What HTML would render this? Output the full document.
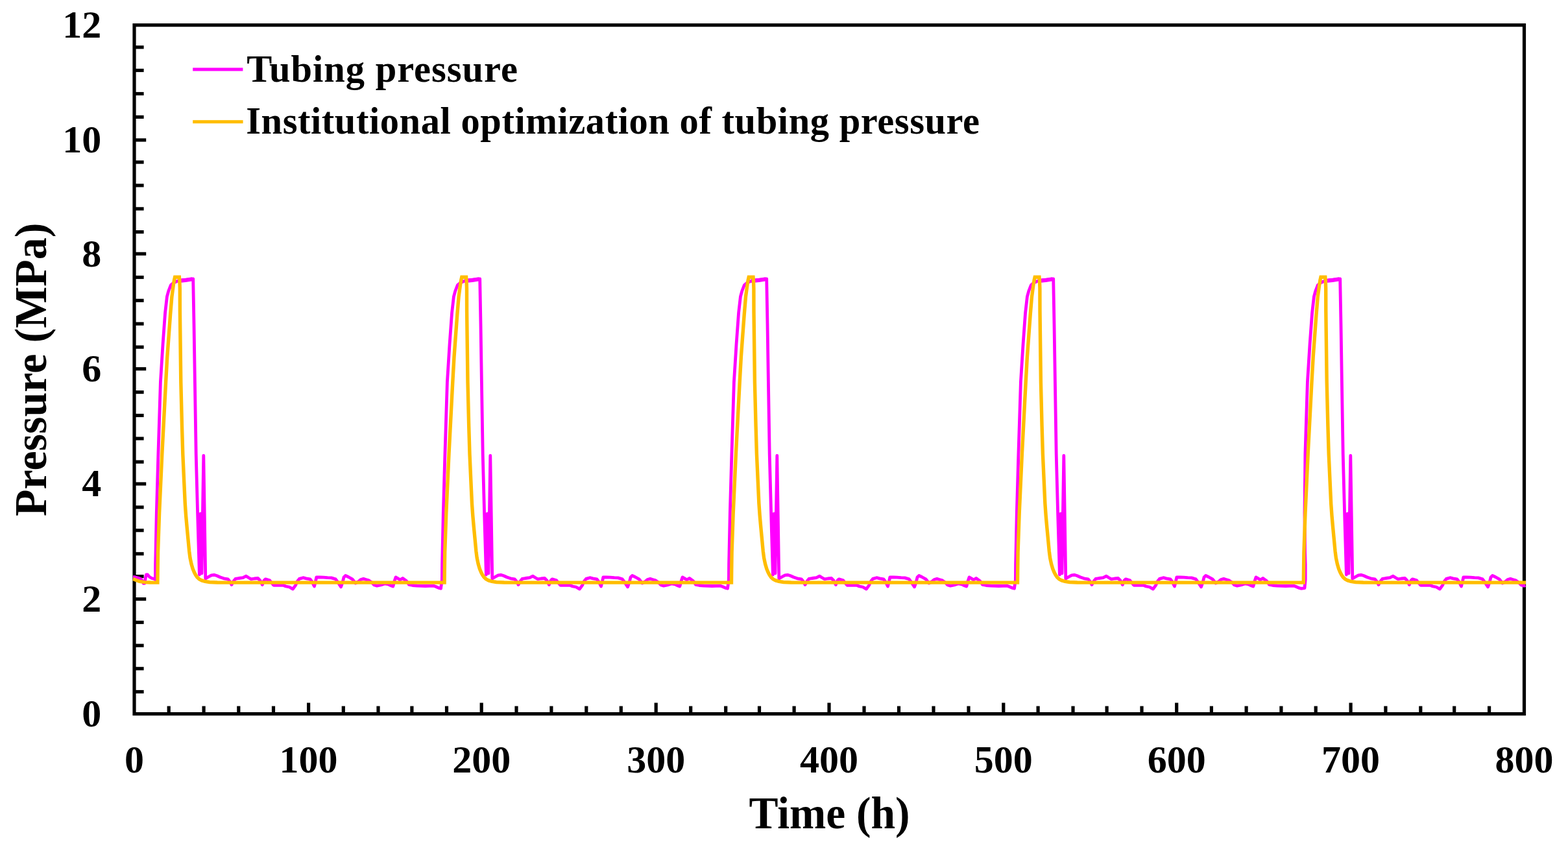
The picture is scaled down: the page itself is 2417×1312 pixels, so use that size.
<!DOCTYPE html>
<html><head><meta charset="utf-8"><title>Tubing pressure chart</title>
<style>html,body{margin:0;padding:0;background:#fff;}body{width:2417px;height:1312px;overflow:hidden;}svg{display:block;filter:blur(0.75px);}</style>
</head><body>
<svg width="2417" height="1312" viewBox="0 0 2417 1312">
<rect width="2417" height="1312" fill="#fff"/>

<g stroke="#000" stroke-width="5.2" fill="none">
<line x1="207.0" y1="72.8" x2="221.6" y2="72.8"/>
<line x1="207.0" y1="108.5" x2="221.6" y2="108.5"/>
<line x1="207.0" y1="144.5" x2="221.6" y2="144.5"/>
<line x1="207.0" y1="180.4" x2="221.6" y2="180.4"/>
<line x1="207.0" y1="215.9" x2="225.2" y2="215.9"/>
<line x1="207.0" y1="250.0" x2="221.6" y2="250.0"/>
<line x1="207.0" y1="285.9" x2="221.6" y2="285.9"/>
<line x1="207.0" y1="321.9" x2="221.6" y2="321.9"/>
<line x1="207.0" y1="357.6" x2="221.6" y2="357.6"/>
<line x1="207.0" y1="391.3" x2="225.2" y2="391.3"/>
<line x1="207.0" y1="427.5" x2="221.6" y2="427.5"/>
<line x1="207.0" y1="463.3" x2="221.6" y2="463.3"/>
<line x1="207.0" y1="499.2" x2="221.6" y2="499.2"/>
<line x1="207.0" y1="535.1" x2="221.6" y2="535.1"/>
<line x1="207.0" y1="568.7" x2="225.2" y2="568.7"/>
<line x1="207.0" y1="604.6" x2="221.6" y2="604.6"/>
<line x1="207.0" y1="640.5" x2="221.6" y2="640.5"/>
<line x1="207.0" y1="676.1" x2="221.6" y2="676.1"/>
<line x1="207.0" y1="712.1" x2="221.6" y2="712.1"/>
<line x1="207.0" y1="746.0" x2="225.2" y2="746.0"/>
<line x1="207.0" y1="782.0" x2="221.6" y2="782.0"/>
<line x1="207.0" y1="817.7" x2="221.6" y2="817.7"/>
<line x1="207.0" y1="853.8" x2="221.6" y2="853.8"/>
<line x1="207.0" y1="888.6" x2="221.6" y2="888.6"/>
<line x1="207.0" y1="923.6" x2="225.2" y2="923.6"/>
<line x1="207.0" y1="959.5" x2="221.6" y2="959.5"/>
<line x1="207.0" y1="995.2" x2="221.6" y2="995.2"/>
<line x1="207.0" y1="1030.8" x2="221.6" y2="1030.8"/>
<line x1="207.0" y1="1066.5" x2="221.6" y2="1066.5"/>
<line x1="260.2" y1="1100.6" x2="260.2" y2="1088.6"/>
<line x1="314.1" y1="1100.6" x2="314.1" y2="1088.6"/>
<line x1="367.8" y1="1100.6" x2="367.8" y2="1088.6"/>
<line x1="421.5" y1="1100.6" x2="421.5" y2="1088.6"/>
<line x1="475.6" y1="1100.6" x2="475.6" y2="1083.5"/>
<line x1="529.3" y1="1100.6" x2="529.3" y2="1088.6"/>
<line x1="583.0" y1="1100.6" x2="583.0" y2="1088.6"/>
<line x1="634.9" y1="1100.6" x2="634.9" y2="1088.6"/>
<line x1="688.5" y1="1100.6" x2="688.5" y2="1088.6"/>
<line x1="742.2" y1="1100.6" x2="742.2" y2="1083.5"/>
<line x1="796.0" y1="1100.6" x2="796.0" y2="1088.6"/>
<line x1="849.9" y1="1100.6" x2="849.9" y2="1088.6"/>
<line x1="903.8" y1="1100.6" x2="903.8" y2="1088.6"/>
<line x1="957.3" y1="1100.6" x2="957.3" y2="1088.6"/>
<line x1="1011.2" y1="1100.6" x2="1011.2" y2="1083.5"/>
<line x1="1064.7" y1="1100.6" x2="1064.7" y2="1088.6"/>
<line x1="1118.7" y1="1100.6" x2="1118.7" y2="1088.6"/>
<line x1="1170.5" y1="1100.6" x2="1170.5" y2="1088.6"/>
<line x1="1224.1" y1="1100.6" x2="1224.1" y2="1088.6"/>
<line x1="1278.0" y1="1100.6" x2="1278.0" y2="1083.5"/>
<line x1="1332.0" y1="1100.6" x2="1332.0" y2="1088.6"/>
<line x1="1385.5" y1="1100.6" x2="1385.5" y2="1088.6"/>
<line x1="1439.0" y1="1100.6" x2="1439.0" y2="1088.6"/>
<line x1="1493.0" y1="1100.6" x2="1493.0" y2="1088.6"/>
<line x1="1546.8" y1="1100.6" x2="1546.8" y2="1083.5"/>
<line x1="1600.1" y1="1100.6" x2="1600.1" y2="1088.6"/>
<line x1="1654.0" y1="1100.6" x2="1654.0" y2="1088.6"/>
<line x1="1706.1" y1="1100.6" x2="1706.1" y2="1088.6"/>
<line x1="1760.0" y1="1100.6" x2="1760.0" y2="1088.6"/>
<line x1="1813.7" y1="1100.6" x2="1813.7" y2="1083.5"/>
<line x1="1867.4" y1="1100.6" x2="1867.4" y2="1088.6"/>
<line x1="1921.1" y1="1100.6" x2="1921.1" y2="1088.6"/>
<line x1="1974.9" y1="1100.6" x2="1974.9" y2="1088.6"/>
<line x1="2028.2" y1="1100.6" x2="2028.2" y2="1088.6"/>
<line x1="2082.1" y1="1100.6" x2="2082.1" y2="1083.5"/>
<line x1="2135.9" y1="1100.6" x2="2135.9" y2="1088.6"/>
<line x1="2189.8" y1="1100.6" x2="2189.8" y2="1088.6"/>
<line x1="2241.7" y1="1100.6" x2="2241.7" y2="1088.6"/>
<line x1="2295.6" y1="1100.6" x2="2295.6" y2="1088.6"/>
<rect x="207.0" y="38.7" width="2142.5" height="1061.9" stroke-linejoin="miter"/>
</g>
<g fill="none" stroke-linejoin="round" stroke-linecap="butt">
<polyline points="205.0,889.5 209.0,890.0 213.0,891.0 217.0,892.5 219.5,896.0 221.2,899.3 222.8,899.3 224.2,891.5 225.5,885.8 227.5,886.0 230.5,889.5 234.0,891.5 238.0,892.5 239.4,893.5 239.6,870.0 240.0,852.0 241.3,791.0 243.9,700.0 247.4,589.0 251.1,530.0 254.6,482.0 257.4,457.4 259.8,448.5 263.3,439.5 267.5,436.0 273.0,433.5 280.0,432.0 290.0,431.0 297.7,429.8 299.0,500.0 300.4,589.0 302.2,700.0 304.6,791.0 307.4,886.0 309.2,792.0 311.0,884.0 313.8,702.5 316.8,892.0 322.0,889.0 326.0,886.8 330.0,886.3 334.0,887.5 339.7,890.0 345.0,891.8 351.3,892.8 354.0,896.0 357.1,901.5 360.0,896.0 362.9,892.4 368.0,891.5 374.5,890.7 379.4,888.2 383.0,890.5 386.9,892.8 392.0,892.0 397.6,891.5 401.0,895.0 404.3,901.5 407.0,895.0 409.2,892.8 415.8,894.9 419.0,899.0 422.0,902.3 430.0,902.3 436.5,902.3 440.7,904.0 446.0,905.0 451.4,908.1 455.6,902.3 458.5,896.0 461.4,892.4 467.2,890.7 472.0,891.8 477.9,892.8 481.0,897.0 484.5,904.0 486.5,896.0 487.8,889.9 493.0,890.0 498.6,890.2 505.0,890.7 510.7,890.9 517.3,892.8 521.0,898.0 525.6,904.8 528.0,898.0 530.0,890.0 532.6,887.4 537.0,889.5 543.0,892.8 547.9,899.0 552.0,897.0 556.0,893.5 560.3,892.4 564.0,893.5 568.6,894.9 573.0,898.0 577.0,902.0 581.0,903.1 587.0,902.0 593.4,899.8 599.0,901.0 603.0,903.0 605.8,904.0 608.0,896.0 610.0,889.9 613.0,891.5 616.6,894.0 620.7,891.5 626.5,895.7 630.7,901.5 636.0,902.5 643.1,903.1 650.0,903.3 655.5,903.5 662.0,903.3 667.9,903.1 672.0,904.5 676.2,906.4 679.5,907.3 681.4,893.5 681.6,870.0 682.0,852.0 683.3,791.0 685.9,700.0 689.4,589.0 693.1,530.0 696.6,482.0 699.4,457.4 701.8,448.5 705.3,439.5 709.5,436.0 715.0,433.5 722.0,432.0 732.0,431.0 739.7,429.8 741.0,500.0 742.4,589.0 744.2,700.0 746.6,791.0 749.4,886.0 751.2,792.0 753.0,884.0 755.8,702.5 758.8,892.0 764.0,889.0 768.0,886.8 772.0,886.3 776.0,887.5 781.7,890.0 787.0,891.8 793.3,892.8 796.0,896.0 799.1,901.5 802.0,896.0 804.9,892.4 810.0,891.5 816.5,890.7 821.4,888.2 825.0,890.5 828.9,892.8 834.0,892.0 839.6,891.5 843.0,895.0 846.3,901.5 849.0,895.0 851.2,892.8 857.8,894.9 861.0,899.0 864.0,902.3 872.0,902.3 878.5,902.3 882.7,904.0 888.0,905.0 893.4,908.1 897.6,902.3 900.5,896.0 903.4,892.4 909.2,890.7 914.0,891.8 919.9,892.8 923.0,897.0 926.5,904.0 928.5,896.0 929.8,889.9 935.0,890.0 940.6,890.2 947.0,890.7 952.7,890.9 959.3,892.8 963.0,898.0 967.6,904.8 970.0,898.0 972.0,890.0 974.6,887.4 979.0,889.5 985.0,892.8 989.9,899.0 994.0,897.0 998.0,893.5 1002.3,892.4 1006.0,893.5 1010.6,894.9 1015.0,898.0 1019.0,902.0 1023.0,903.1 1029.0,902.0 1035.4,899.8 1041.0,901.0 1045.0,903.0 1047.8,904.0 1050.0,896.0 1052.0,889.9 1055.0,891.5 1058.6,894.0 1062.7,891.5 1068.5,895.7 1072.7,901.5 1078.0,902.5 1085.1,903.1 1092.0,903.3 1097.5,903.5 1104.0,903.3 1109.9,903.1 1114.0,904.5 1118.2,906.4 1121.5,907.3 1123.4,893.5 1123.6,870.0 1124.0,852.0 1125.3,791.0 1127.9,700.0 1131.4,589.0 1135.1,530.0 1138.6,482.0 1141.4,457.4 1143.8,448.5 1147.3,439.5 1151.5,436.0 1157.0,433.5 1164.0,432.0 1174.0,431.0 1181.7,429.8 1183.0,500.0 1184.4,589.0 1186.2,700.0 1188.6,791.0 1191.4,886.0 1193.2,792.0 1195.0,884.0 1197.8,702.5 1200.8,892.0 1206.0,889.0 1210.0,886.8 1214.0,886.3 1218.0,887.5 1223.7,890.0 1229.0,891.8 1235.3,892.8 1238.0,896.0 1241.1,901.5 1244.0,896.0 1246.9,892.4 1252.0,891.5 1258.5,890.7 1263.4,888.2 1267.0,890.5 1270.9,892.8 1276.0,892.0 1281.6,891.5 1285.0,895.0 1288.3,901.5 1291.0,895.0 1293.2,892.8 1299.8,894.9 1303.0,899.0 1306.0,902.3 1314.0,902.3 1320.5,902.3 1324.7,904.0 1330.0,905.0 1335.4,908.1 1339.6,902.3 1342.5,896.0 1345.4,892.4 1351.2,890.7 1356.0,891.8 1361.9,892.8 1365.0,897.0 1368.5,904.0 1370.5,896.0 1371.8,889.9 1377.0,890.0 1382.6,890.2 1389.0,890.7 1394.7,890.9 1401.3,892.8 1405.0,898.0 1409.6,904.8 1412.0,898.0 1414.0,890.0 1416.6,887.4 1421.0,889.5 1427.0,892.8 1431.9,899.0 1436.0,897.0 1440.0,893.5 1444.3,892.4 1448.0,893.5 1452.6,894.9 1457.0,898.0 1461.0,902.0 1465.0,903.1 1471.0,902.0 1477.4,899.8 1483.0,901.0 1487.0,903.0 1489.8,904.0 1492.0,896.0 1494.0,889.9 1497.0,891.5 1500.6,894.0 1504.7,891.5 1510.5,895.7 1514.7,901.5 1520.0,902.5 1527.1,903.1 1534.0,903.3 1539.5,903.5 1546.0,903.3 1551.9,903.1 1556.0,904.5 1560.2,906.4 1563.5,907.3 1565.4,893.5 1565.6,870.0 1566.0,852.0 1567.3,791.0 1569.9,700.0 1573.4,589.0 1577.1,530.0 1580.6,482.0 1583.4,457.4 1585.8,448.5 1589.3,439.5 1593.5,436.0 1599.0,433.5 1606.0,432.0 1616.0,431.0 1623.7,429.8 1625.0,500.0 1626.4,589.0 1628.2,700.0 1630.6,791.0 1633.4,886.0 1635.2,792.0 1637.0,884.0 1639.8,702.5 1642.8,892.0 1648.0,889.0 1652.0,886.8 1656.0,886.3 1660.0,887.5 1665.7,890.0 1671.0,891.8 1677.3,892.8 1680.0,896.0 1683.1,901.5 1686.0,896.0 1688.9,892.4 1694.0,891.5 1700.5,890.7 1705.4,888.2 1709.0,890.5 1712.9,892.8 1718.0,892.0 1723.6,891.5 1727.0,895.0 1730.3,901.5 1733.0,895.0 1735.2,892.8 1741.8,894.9 1745.0,899.0 1748.0,902.3 1756.0,902.3 1762.5,902.3 1766.7,904.0 1772.0,905.0 1777.4,908.1 1781.6,902.3 1784.5,896.0 1787.4,892.4 1793.2,890.7 1798.0,891.8 1803.9,892.8 1807.0,897.0 1810.5,904.0 1812.5,896.0 1813.8,889.9 1819.0,890.0 1824.6,890.2 1831.0,890.7 1836.7,890.9 1843.3,892.8 1847.0,898.0 1851.6,904.8 1854.0,898.0 1856.0,890.0 1858.6,887.4 1863.0,889.5 1869.0,892.8 1873.9,899.0 1878.0,897.0 1882.0,893.5 1886.3,892.4 1890.0,893.5 1894.6,894.9 1899.0,898.0 1903.0,902.0 1907.0,903.1 1913.0,902.0 1919.4,899.8 1925.0,901.0 1929.0,903.0 1931.8,904.0 1934.0,896.0 1936.0,889.9 1939.0,891.5 1942.6,894.0 1946.7,891.5 1952.5,895.7 1956.7,901.5 1962.0,902.5 1969.1,903.1 1976.0,903.3 1981.5,903.5 1988.0,903.3 1993.9,903.1 1998.0,904.5 2002.2,906.4 2005.5,907.3 2011.0,906.5 2012.2,893.5 2012.2,870.0 2011.6,852.0 2011.0,791.0 2011.9,700.0 2015.4,589.0 2019.1,530.0 2022.6,482.0 2025.4,457.4 2027.8,448.5 2031.3,439.5 2035.5,436.0 2041.0,433.5 2048.0,432.0 2058.0,431.0 2065.7,429.8 2067.0,500.0 2068.4,589.0 2070.2,700.0 2072.6,791.0 2075.4,886.0 2077.2,792.0 2079.0,884.0 2081.8,702.5 2084.8,892.0 2090.0,889.0 2094.0,886.8 2098.0,886.3 2102.0,887.5 2107.7,890.0 2113.0,891.8 2119.3,892.8 2122.0,896.0 2125.1,901.5 2128.0,896.0 2130.9,892.4 2136.0,891.5 2142.5,890.7 2147.4,888.2 2151.0,890.5 2154.9,892.8 2160.0,892.0 2165.6,891.5 2169.0,895.0 2172.3,901.5 2175.0,895.0 2177.2,892.8 2183.8,894.9 2187.0,899.0 2190.0,902.3 2198.0,902.3 2204.5,902.3 2208.7,904.0 2214.0,905.0 2219.4,908.1 2223.6,902.3 2226.5,896.0 2229.4,892.4 2235.2,890.7 2240.0,891.8 2245.9,892.8 2249.0,897.0 2252.5,904.0 2254.5,896.0 2255.8,889.9 2261.0,890.0 2266.6,890.2 2273.0,890.7 2278.7,890.9 2285.3,892.8 2289.0,898.0 2293.6,904.8 2296.0,898.0 2298.0,890.0 2300.6,887.4 2305.0,889.5 2311.0,892.8 2315.9,899.0 2320.0,897.0 2324.0,893.5 2328.3,892.4 2332.0,893.5 2336.6,894.9 2341.0,898.0 2345.0,902.0 2349.0,903.1 2351.5,902.6" stroke="#ff00ff" stroke-width="4.8" stroke-linejoin="round"/>
<polyline points="274.0,433.2 286.0,432.0 296.5,430.2" stroke="#ff00ff" stroke-width="6.2"/>
<polyline points="716.0,433.2 728.0,432.0 738.5,430.2" stroke="#ff00ff" stroke-width="6.2"/>
<polyline points="1158.0,433.2 1170.0,432.0 1180.5,430.2" stroke="#ff00ff" stroke-width="6.2"/>
<polyline points="1600.0,433.2 1612.0,432.0 1622.5,430.2" stroke="#ff00ff" stroke-width="6.2"/>
<polyline points="2042.0,433.2 2054.0,432.0 2064.5,430.2" stroke="#ff00ff" stroke-width="6.2"/>
<polyline points="205.0,892.6 207.0,893.2 210.0,894.6 215.0,896.3 223.0,897.6 232.0,898.0 242.9,898.1 243.1,880.0 243.5,852.0 245.6,791.0 249.8,700.0 255.6,589.0 257.8,550.0 259.9,521.5 262.6,485.0 264.9,457.4 266.3,447.0 267.4,439.0 268.5,432.0 269.6,427.2 276.4,427.2 276.9,433.0 277.3,445.0 277.4,480.0 278.8,589.0 280.5,657.0 281.8,700.0 283.6,740.0 285.3,776.6 286.6,795.0 288.2,813.0 290.0,832.0 291.7,850.0 293.0,860.0 295.0,869.5 297.2,877.0 299.5,882.5 301.5,886.3 304.0,890.0 307.0,892.8 311.0,894.9 316.0,896.4 323.0,897.5 335.0,898.0 350.0,898.1 685.1,898.1 685.3,880.0 685.7,852.0 687.8,791.0 692.0,700.0 697.8,589.0 700.0,550.0 702.1,521.5 704.8,485.0 707.1,457.4 708.5,447.0 709.6,439.0 710.7,432.0 711.8,427.2 718.6,427.2 719.1,433.0 719.5,445.0 719.6,480.0 721.0,589.0 722.7,657.0 724.0,700.0 725.8,740.0 727.5,776.6 728.8,795.0 730.4,813.0 732.2,832.0 733.9,850.0 735.2,860.0 737.2,869.5 739.4,877.0 741.7,882.5 743.7,886.3 746.2,890.0 749.2,892.8 753.2,894.9 758.2,896.4 765.2,897.5 777.2,898.0 792.2,898.1 1127.5,898.1 1127.7,880.0 1128.1,852.0 1130.2,791.0 1134.4,700.0 1140.2,589.0 1142.4,550.0 1144.5,521.5 1147.2,485.0 1149.5,457.4 1150.9,447.0 1152.0,439.0 1153.1,432.0 1154.2,427.2 1161.0,427.2 1161.5,433.0 1161.9,445.0 1162.0,480.0 1163.4,589.0 1165.1,657.0 1166.4,700.0 1168.2,740.0 1169.9,776.6 1171.2,795.0 1172.8,813.0 1174.6,832.0 1176.3,850.0 1177.6,860.0 1179.6,869.5 1181.8,877.0 1184.1,882.5 1186.1,886.3 1188.6,890.0 1191.6,892.8 1195.6,894.9 1200.6,896.4 1207.6,897.5 1219.6,898.0 1234.6,898.1 1568.5,898.1 1568.7,880.0 1569.1,852.0 1571.2,791.0 1575.4,700.0 1581.2,589.0 1583.4,550.0 1585.5,521.5 1588.2,485.0 1590.5,457.4 1591.9,447.0 1593.0,439.0 1594.1,432.0 1595.2,427.2 1602.0,427.2 1602.5,433.0 1602.9,445.0 1603.0,480.0 1604.4,589.0 1606.1,657.0 1607.4,700.0 1609.2,740.0 1610.9,776.6 1612.2,795.0 1613.8,813.0 1615.6,832.0 1617.3,850.0 1618.6,860.0 1620.6,869.5 1622.8,877.0 1625.1,882.5 1627.1,886.3 1629.6,890.0 1632.6,892.8 1636.6,894.9 1641.6,896.4 1648.6,897.5 1660.6,898.0 1675.6,898.1 2009.3,898.1 2009.5,880.0 2009.9,852.0 2012.0,791.0 2016.2,700.0 2022.0,589.0 2024.2,550.0 2026.3,521.5 2029.0,485.0 2031.3,457.4 2032.7,447.0 2033.8,439.0 2034.9,432.0 2036.0,427.2 2042.8,427.2 2043.3,433.0 2043.7,445.0 2043.8,480.0 2045.2,589.0 2046.9,657.0 2048.2,700.0 2050.0,740.0 2051.7,776.6 2053.0,795.0 2054.6,813.0 2056.4,832.0 2058.1,850.0 2059.4,860.0 2061.4,869.5 2063.6,877.0 2065.9,882.5 2067.9,886.3 2070.4,890.0 2073.4,892.8 2077.4,894.9 2082.4,896.4 2089.4,897.5 2101.4,898.0 2116.4,898.1 2352.0,898.1" stroke="#ffbd00" stroke-width="5.4" stroke-linejoin="miter" stroke-miterlimit="3"/>
</g>
<g font-family="'Liberation Serif','Times New Roman',serif" font-weight="bold" font-size="60" fill="#000">
<text x="156.2" y="1119.6" text-anchor="end">0</text>
<text x="156.2" y="942.8" text-anchor="end">2</text>
<text x="156.2" y="765.2" text-anchor="end">4</text>
<text x="156.2" y="587.9" text-anchor="end">6</text>
<text x="156.2" y="410.5" text-anchor="end">8</text>
<text x="156.2" y="235.1" text-anchor="end">10</text>
<text x="156.2" y="57.9" text-anchor="end">12</text>
<text x="207.0" y="1191" text-anchor="middle">0</text>
<text x="475.6" y="1191" text-anchor="middle">100</text>
<text x="742.2" y="1191" text-anchor="middle">200</text>
<text x="1011.2" y="1191" text-anchor="middle">300</text>
<text x="1278.0" y="1191" text-anchor="middle">400</text>
<text x="1546.8" y="1191" text-anchor="middle">500</text>
<text x="1813.7" y="1191" text-anchor="middle">600</text>
<text x="2082.1" y="1191" text-anchor="middle">700</text>
<text x="2349.5" y="1191" text-anchor="middle">800</text>
</g>
<g font-family="'Liberation Serif','Times New Roman',serif" font-weight="bold" fill="#000">
<text x="1154.4" y="1277.2" font-size="69.8" textLength="248.2" lengthAdjust="spacingAndGlyphs">Time (h)</text>
<text transform="translate(71.2,796.1) rotate(-90)" x="0" y="0" font-size="69.3" textLength="452.5" lengthAdjust="spacingAndGlyphs">Pressure (MPa)</text>
<text x="380.3" y="125.8" font-size="58.5" textLength="417.7" lengthAdjust="spacing">Tubing pressure</text>
<text x="379.2" y="205.8" font-size="58.5" textLength="1130.8" lengthAdjust="spacing">Institutional optimization of tubing pressure</text>
</g>
<line x1="297.2" y1="106.9" x2="374.4" y2="106.9" stroke="#ff00ff" stroke-width="5"/>
<line x1="297.2" y1="187.7" x2="374.6" y2="187.7" stroke="#ffbd00" stroke-width="5"/>
</svg>
</body></html>
